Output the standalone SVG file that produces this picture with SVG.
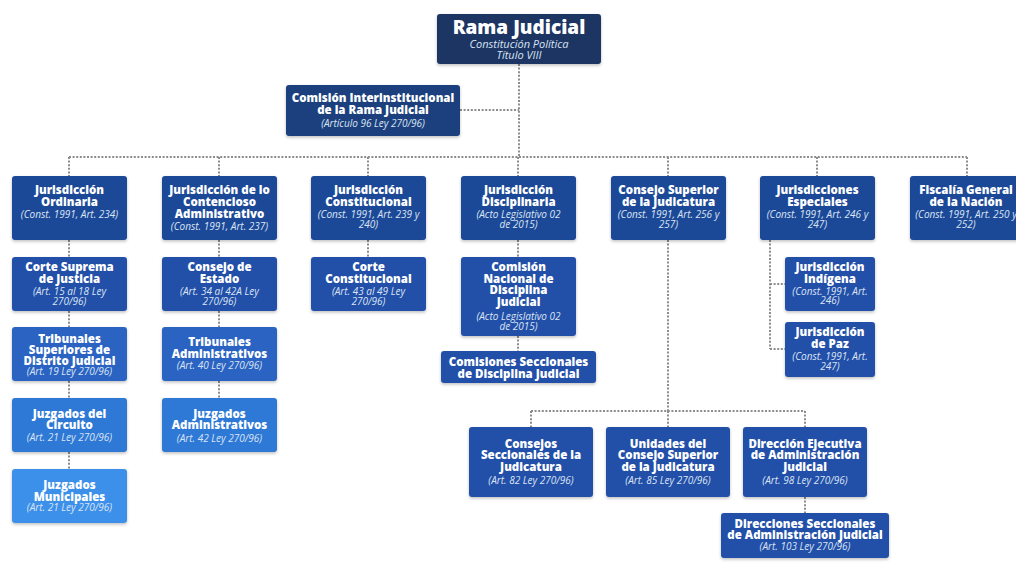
<svg xmlns="http://www.w3.org/2000/svg" width="1016" height="573" viewBox="0 0 1016 573">
<defs>
<filter id="sh" x="-10%" y="-10%" width="120%" height="130%">
<feDropShadow dx="0" dy="1.5" stdDeviation="1.5" flood-color="#000" flood-opacity="0.25"/>
</filter>
<style>
.b{filter:url(#sh)}
.c0{fill:#1c3663}.c1{fill:#1f3f7d}.c2{fill:#1f4897}.c3{fill:#2350a8}.c4{fill:#2a64c2}.c5{fill:#2f78d6}.c6{fill:#3e90ea}
text{font-family:"Open Sans","Liberation Sans",sans-serif;text-anchor:middle}
.t{font-size:11.5px;font-weight:800;fill:#fff}
.tt{font-size:19px;font-weight:800;fill:#fff}
.i{font-size:10px;font-style:italic;fill:#dbe4f3}
.is{font-size:11px;font-style:italic;fill:#dbe4f3}
.con{fill:none;stroke:#8c8c8c;stroke-width:2;stroke-dasharray:2 1.6}
</style>
</defs>
<rect width="1016" height="573" fill="#fff"/>
<g id="connectors" class="con">
<path d="M519 64V157M460 110H519M69 157H967"/>
<path d="M69 157V176M219 157V176M368 157V176M518 157V176M668 157V176M817 157V176M967 157V176"/>
<path d="M69 240V257M69 311V327M69 381V398M69 452V469"/>
<path d="M219 240V257M219 311V327M219 381V398"/>
<path d="M368 240V257"/>
<path d="M518 240V257M518 336V351"/>
<path d="M668 240V411M531 411H805M531 411V427M668 411V427M805 411V427M805 497V513"/>
<path d="M770 240V349M770 284H785M770 349H785"/>
</g>
<g id="rama"><rect class="b c0" x="437" y="14" width="164" height="50" rx="3"/>
<text class="tt" x="519" y="34">Rama Judicial</text>
<text class="is" x="519" y="48">Constitución Política</text>
<text class="is" x="519" y="59">Título VIII</text></g>
<g id="comision-inter"><rect class="b c1" x="286" y="85" width="174" height="51" rx="3"/>
<text class="t" x="373" y="102">Comisión Interinstitucional</text>
<text class="t" x="373" y="114">de la Rama Judicial</text>
<text class="i" x="373" y="127">(Artículo 96 Ley 270/96)</text></g>
<g id="ordinaria"><rect class="b c2" x="12" y="176" width="115" height="64" rx="3"/>
<text class="t" x="69.5" y="194">Jurisdicción</text>
<text class="t" x="69.5" y="206">Ordinaria</text>
<text class="i" x="69.5" y="218">(Const. 1991, Art. 234)</text></g>
<g id="contencioso"><rect class="b c2" x="162" y="176" width="115" height="64" rx="3"/>
<text class="t" x="219.5" y="194">Jurisdicción de lo</text>
<text class="t" x="219.5" y="206">Contencioso</text>
<text class="t" x="219.5" y="218">Administrativo</text>
<text class="i" x="219.5" y="230">(Const. 1991, Art. 237)</text></g>
<g id="constitucional"><rect class="b c2" x="311" y="176" width="115" height="64" rx="3"/>
<text class="t" x="368.5" y="194">Jurisdicción</text>
<text class="t" x="368.5" y="206">Constitucional</text>
<text class="i" x="368.5" y="218">(Const. 1991, Art. 239 y</text>
<text class="i" x="368.5" y="228">240)</text></g>
<g id="disciplinaria"><rect class="b c2" x="461" y="176" width="115" height="64" rx="3"/>
<text class="t" x="518.5" y="194">Jurisdicción</text>
<text class="t" x="518.5" y="206">Disciplinaria</text>
<text class="i" x="518.5" y="218">(Acto Legislativo 02</text>
<text class="i" x="518.5" y="228">de 2015)</text></g>
<g id="consejo-superior"><rect class="b c2" x="611" y="176" width="115" height="64" rx="3"/>
<text class="t" x="668.5" y="194">Consejo Superior</text>
<text class="t" x="668.5" y="206">de la Judicatura</text>
<text class="i" x="668.5" y="218">(Const. 1991, Art. 256 y</text>
<text class="i" x="668.5" y="228">257)</text></g>
<g id="especiales"><rect class="b c2" x="760" y="176" width="115" height="64" rx="3"/>
<text class="t" x="817.5" y="194">Jurisdicciones</text>
<text class="t" x="817.5" y="206">Especiales</text>
<text class="i" x="817.5" y="218">(Const. 1991, Art. 246 y</text>
<text class="i" x="817.5" y="228">247)</text></g>
<g id="fiscalia"><rect class="b c2" x="910" y="176" width="115" height="64" rx="3"/>
<text class="t" x="966" y="194">Fiscalía General</text>
<text class="t" x="966" y="206">de la Nación</text>
<text class="i" x="966" y="218">(Const. 1991, Art. 250 y</text>
<text class="i" x="966" y="228">252)</text></g>
<g id="corte-suprema"><rect class="b c3" x="12" y="257" width="115" height="54" rx="3"/>
<text class="t" x="69.5" y="271">Corte Suprema</text>
<text class="t" x="69.5" y="283">de Justicia</text>
<text class="i" x="69.5" y="295">(Art. 15 al 18 Ley</text>
<text class="i" x="69.5" y="305">270/96)</text></g>
<g id="tribunales-superiores"><rect class="b c4" x="12" y="327" width="115" height="54" rx="3"/>
<text class="t" x="69.5" y="343">Tribunales</text>
<text class="t" x="69.5" y="354">Superiores de</text>
<text class="t" x="69.5" y="365">Distrito Judicial</text>
<text class="i" x="69.5" y="375">(Art. 19 Ley 270/96)</text></g>
<g id="juzgados-circuito"><rect class="b c5" x="12" y="398" width="115" height="54" rx="3"/>
<text class="t" x="69.5" y="418">Juzgados del</text>
<text class="t" x="69.5" y="429">Circuito</text>
<text class="i" x="69.5" y="441">(Art. 21 Ley 270/96)</text></g>
<g id="juzgados-municipales"><rect class="b c6" x="12" y="469" width="115" height="54" rx="3"/>
<text class="t" x="69.5" y="489">Juzgados</text>
<text class="t" x="69.5" y="501">Municipales</text>
<text class="i" x="69.5" y="511">(Art. 21 Ley 270/96)</text></g>
<g id="consejo-estado"><rect class="b c3" x="162" y="257" width="115" height="54" rx="3"/>
<text class="t" x="219.5" y="271">Consejo de</text>
<text class="t" x="219.5" y="283">Estado</text>
<text class="i" x="219.5" y="295">(Art. 34 al 42A Ley</text>
<text class="i" x="219.5" y="305">270/96)</text></g>
<g id="tribunales-admin"><rect class="b c4" x="162" y="327" width="115" height="54" rx="3"/>
<text class="t" x="219.5" y="346">Tribunales</text>
<text class="t" x="219.5" y="358">Administrativos</text>
<text class="i" x="219.5" y="369">(Art. 40 Ley 270/96)</text></g>
<g id="juzgados-admin"><rect class="b c5" x="162" y="398" width="115" height="54" rx="3"/>
<text class="t" x="219.5" y="418">Juzgados</text>
<text class="t" x="219.5" y="429">Administrativos</text>
<text class="i" x="219.5" y="442">(Art. 42 Ley 270/96)</text></g>
<g id="corte-constitucional"><rect class="b c3" x="311" y="257" width="115" height="54" rx="3"/>
<text class="t" x="368.5" y="271">Corte</text>
<text class="t" x="368.5" y="283">Constitucional</text>
<text class="i" x="368.5" y="295">(Art. 43 al 49 Ley</text>
<text class="i" x="368.5" y="305">270/96)</text></g>
<g id="comision-nacional"><rect class="b c3" x="461" y="257" width="115" height="79" rx="3"/>
<text class="t" x="518.5" y="271">Comisión</text>
<text class="t" x="518.5" y="283">Nacional de</text>
<text class="t" x="518.5" y="294">Disciplina</text>
<text class="t" x="518.5" y="306">Judicial</text>
<text class="i" x="518.5" y="320">(Acto Legislativo 02</text>
<text class="i" x="518.5" y="330">de 2015)</text></g>
<g id="comisiones-seccionales"><rect class="b c3" x="441" y="351" width="155" height="32" rx="3"/>
<text class="t" x="518.5" y="366">Comisiones Seccionales</text>
<text class="t" x="518.5" y="378">de Disciplina Judicial</text></g>
<g id="indigena"><rect class="b c3" x="785" y="257" width="90" height="54" rx="3"/>
<text class="t" x="830" y="271">Jurisdicción</text>
<text class="t" x="830" y="283">Indígena</text>
<text class="i" x="830" y="295">(Const. 1991, Art.</text>
<text class="i" x="830" y="304">246)</text></g>
<g id="paz"><rect class="b c3" x="785" y="322" width="90" height="55" rx="3"/>
<text class="t" x="830" y="336">Jurisdicción</text>
<text class="t" x="830" y="348">de Paz</text>
<text class="i" x="830" y="360">(Const. 1991, Art.</text>
<text class="i" x="830" y="370">247)</text></g>
<g id="consejos-seccionales"><rect class="b c3" x="469" y="427" width="124" height="70" rx="3"/>
<text class="t" x="531" y="448">Consejos</text>
<text class="t" x="531" y="459">Seccionales de la</text>
<text class="t" x="531" y="471">Judicatura</text>
<text class="i" x="531" y="484">(Art. 82 Ley 270/96)</text></g>
<g id="unidades"><rect class="b c3" x="606" y="427" width="124" height="70" rx="3"/>
<text class="t" x="668" y="448">Unidades del</text>
<text class="t" x="668" y="459">Consejo Superior</text>
<text class="t" x="668" y="471">de la Judicatura</text>
<text class="i" x="668" y="484">(Art. 85 Ley 270/96)</text></g>
<g id="direccion-ejecutiva"><rect class="b c3" x="743" y="427" width="124" height="70" rx="3"/>
<text class="t" x="805" y="448">Dirección Ejecutiva</text>
<text class="t" x="805" y="459">de Administración</text>
<text class="t" x="805" y="471">Judicial</text>
<text class="i" x="805" y="484">(Art. 98 Ley 270/96)</text></g>
<g id="direcciones-seccionales"><rect class="b c3" x="721" y="513" width="168" height="45" rx="3"/>
<text class="t" x="805" y="528">Direcciones Seccionales</text>
<text class="t" x="805" y="539">de Administración Judicial</text>
<text class="i" x="805" y="550">(Art. 103 Ley 270/96)</text></g>
</svg>
